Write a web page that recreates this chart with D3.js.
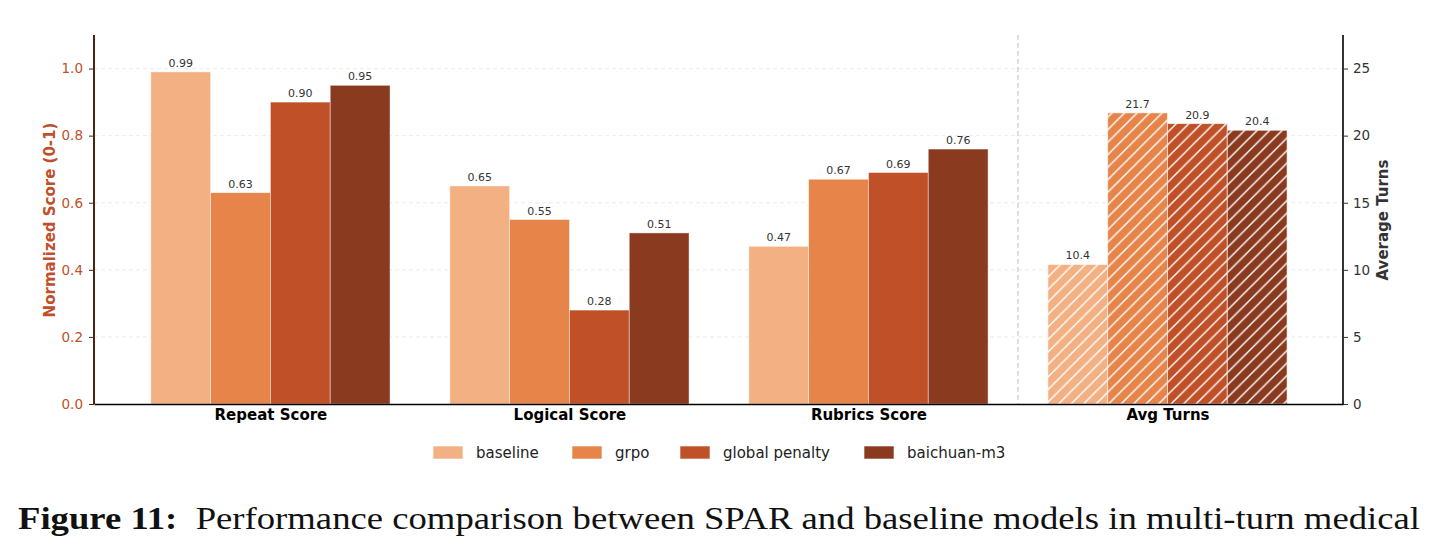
<!DOCTYPE html>
<html>
<head>
<meta charset="utf-8">
<script src="https://cdn.jsdelivr.net/npm/d3@7"></script>
<style>
  html, body { margin: 0; padding: 0; background: #fff; }
  svg { display: block; }
</style>
</head>
<body>
<svg id="chart" width="1435" height="552" font-family="DejaVu Sans"></svg>
<script>
// ---- data ----
const categories = ["Repeat Score", "Logical Score", "Rubrics Score", "Avg Turns"];
const seriesNames = ["baseline", "grpo", "global penalty", "baichuan-m3"];
const seriesColors = ["#F3B083", "#E6844A", "#BF5027", "#8A3B1F"];
const baselineScores = [0.99, 0.65, 0.47];
const grpoScores = [0.63, 0.55, 0.67];
const globalPenaltyScores = [0.90, 0.28, 0.69];
const baichuanScores = [0.95, 0.51, 0.76];
const avgTurns = [10.4, 21.7, 20.9, 20.4];
const leftTicks = [0.0, 0.2, 0.4, 0.6, 0.8, 1.0];
const rightTicks = [0, 5, 10, 15, 20, 25];
const captionBold = "Figure 11:";
const captionText = "Performance comparison between SPAR and baseline models in multi-turn medical";

const scoreSeries = [baselineScores, grpoScores, globalPenaltyScores, baichuanScores];

(function () {
// ---- layout ----
const svg = d3.select("#chart");
const pLeft = 94, pRight = 1343, pTop = 35, pBottom = 404;
const x = d3.scaleLinear().domain([-0.59, 3.587]).range([pLeft, pRight]);
const yL = d3.scaleLinear().domain([0, 1.1]).range([pBottom, pTop]);
const yR = d3.scaleLinear().domain([0, 27.5]).range([pBottom, pTop]);
const barW = 0.2;
const leftColor = "#C0502A";

// hatch patterns
const defs = svg.append("defs");
const pat = defs.append("pattern").attr("id", "hatch")
  .attr("patternUnits", "userSpaceOnUse").attr("width", 12.5).attr("height", 12.5);
pat.append("path").attr("d", "M0,12.5 L12.5,0 M-3,3 L3,-3 M9.5,15.5 L15.5,9.5")
  .attr("stroke", "#fff").attr("stroke-width", 1.4).attr("fill", "none");

// gridlines
svg.append("g").selectAll("line").data(leftTicks.filter(d => d > 0)).join("line")
  .attr("x1", pLeft).attr("x2", pRight)
  .attr("y1", d => yL(d)).attr("y2", d => yL(d))
  .attr("stroke", "#e6e6e6").attr("stroke-width", 0.8).attr("stroke-dasharray", "4,3");

// separator
svg.append("line").attr("x1", x(2.5)).attr("x2", x(2.5)).attr("y1", pTop).attr("y2", pBottom)
  .attr("stroke", "#bdbdbd").attr("stroke-width", 1).attr("stroke-dasharray", "5,3");

// score bars
const offsets = [-1.5, -0.5, 0.5, 1.5];
const barsG = svg.append("g");
scoreSeries.forEach((vals, si) => {
  vals.forEach((v, ci) => {
    const x0 = x(ci + offsets[si] * barW - barW / 2);
    const x1 = x(ci + offsets[si] * barW + barW / 2);
    barsG.append("rect").attr("x", x0).attr("width", x1 - x0)
      .attr("y", yL(v)).attr("height", yL(0) - yL(v))
      .attr("fill", seriesColors[si]).attr("stroke", "#fff").attr("stroke-opacity", 0.55).attr("stroke-width", 0.8);
    barsG.append("text").attr("x", (x0 + x1) / 2).attr("y", yL(v) - 5)
      .attr("text-anchor", "middle").attr("font-size", 11).attr("fill", "#333")
      .text(v.toFixed(2));
  });
});

// turns bars
avgTurns.forEach((v, si) => {
  const ci = 3;
  const x0 = x(ci + offsets[si] * barW - barW / 2);
  const x1 = x(ci + offsets[si] * barW + barW / 2);
  barsG.append("rect").attr("x", x0).attr("width", x1 - x0)
    .attr("y", yR(v)).attr("height", yR(0) - yR(v))
    .attr("fill", seriesColors[si]);
  barsG.append("rect").attr("x", x0).attr("width", x1 - x0)
    .attr("y", yR(v)).attr("height", yR(0) - yR(v))
    .attr("fill", "url(#hatch)").attr("stroke", "#fff").attr("stroke-opacity", 0.6).attr("stroke-width", 1);
  barsG.append("text").attr("x", (x0 + x1) / 2).attr("y", yR(v) - 5)
    .attr("text-anchor", "middle").attr("font-size", 11).attr("fill", "#333")
    .text(v.toFixed(1));
});

// axes
const gL = svg.append("g").attr("transform", `translate(${pLeft},0)`)
  .call(d3.axisLeft(yL).tickValues(leftTicks).tickFormat(d3.format(".1f")).tickSize(5).tickPadding(6));
gL.attr("font-family", null);
gL.select(".domain").remove();
gL.selectAll(".tick line").attr("stroke", "#4A2511").attr("stroke-width", 1);
gL.selectAll(".tick text").attr("fill", leftColor).style("font-size", "13.5px").style("font-family", "DejaVu Sans");
svg.append("line").attr("x1", pLeft).attr("x2", pLeft).attr("y1", pTop).attr("y2", pBottom)
  .attr("stroke", "#4A2511").attr("stroke-width", 2);

const gR = svg.append("g").attr("transform", `translate(${pRight},0)`)
  .call(d3.axisRight(yR).tickValues(rightTicks).tickSize(5).tickPadding(5));
gR.select(".domain").remove();
gR.selectAll(".tick line").attr("stroke", "#333").attr("stroke-width", 1);
gR.selectAll(".tick text").attr("fill", "#333").style("font-size", "13.5px").style("font-family", "DejaVu Sans");
svg.append("line").attr("x1", pRight).attr("x2", pRight).attr("y1", pTop).attr("y2", pBottom)
  .attr("stroke", "#333").attr("stroke-width", 2);

// bottom axis
const gB = svg.append("g").attr("transform", `translate(0,${pBottom})`)
  .call(d3.axisBottom(x).tickValues([0, 1, 2, 3]).tickFormat(i => categories[i]).tickSize(0).tickPadding(5));
gB.select(".domain").attr("stroke", "#000").attr("stroke-width", 1.5);
gB.selectAll(".tick text").attr("fill", "#000").style("font-size", "15px").attr("font-weight", "bold").style("font-family", "DejaVu Sans");

// axis titles
svg.append("text").attr("transform", `translate(55,220) rotate(-90)`)
  .attr("text-anchor", "middle").attr("font-size", 15).attr("font-weight", "bold").attr("fill", leftColor)
  .text("Normalized Score (0-1)");
svg.append("text").attr("transform", `translate(1388,220) rotate(-90)`)
  .attr("text-anchor", "middle").attr("font-size", 15).attr("font-weight", "bold").attr("fill", "#333")
  .text("Average Turns");

// legend
const legendX = [433, 572, 680, 864];
const lg = svg.append("g");
seriesNames.forEach((n, i) => {
  lg.append("rect").attr("x", legendX[i]).attr("y", 446).attr("width", 30).attr("height", 13)
    .attr("fill", seriesColors[i]).attr("stroke", "#fff").attr("stroke-opacity", 0.6);
  lg.append("text").attr("x", legendX[i] + 43).attr("y", 458).attr("font-size", 15).attr("fill", "#222").text(n);
});

// caption
const cap = svg.append("text").attr("x", 18).attr("y", 529)
  .style("font-family", "'Liberation Serif', 'DejaVu Serif', serif").style("font-size", "31px").attr("fill", "#111")
  .attr("textLength", 1402).attr("lengthAdjust", "spacingAndGlyphs");
cap.append("tspan").attr("font-weight", "bold").text(captionBold);
cap.append("tspan").text("\u00a0 " + captionText);
})();
</script>
</body>
</html>
